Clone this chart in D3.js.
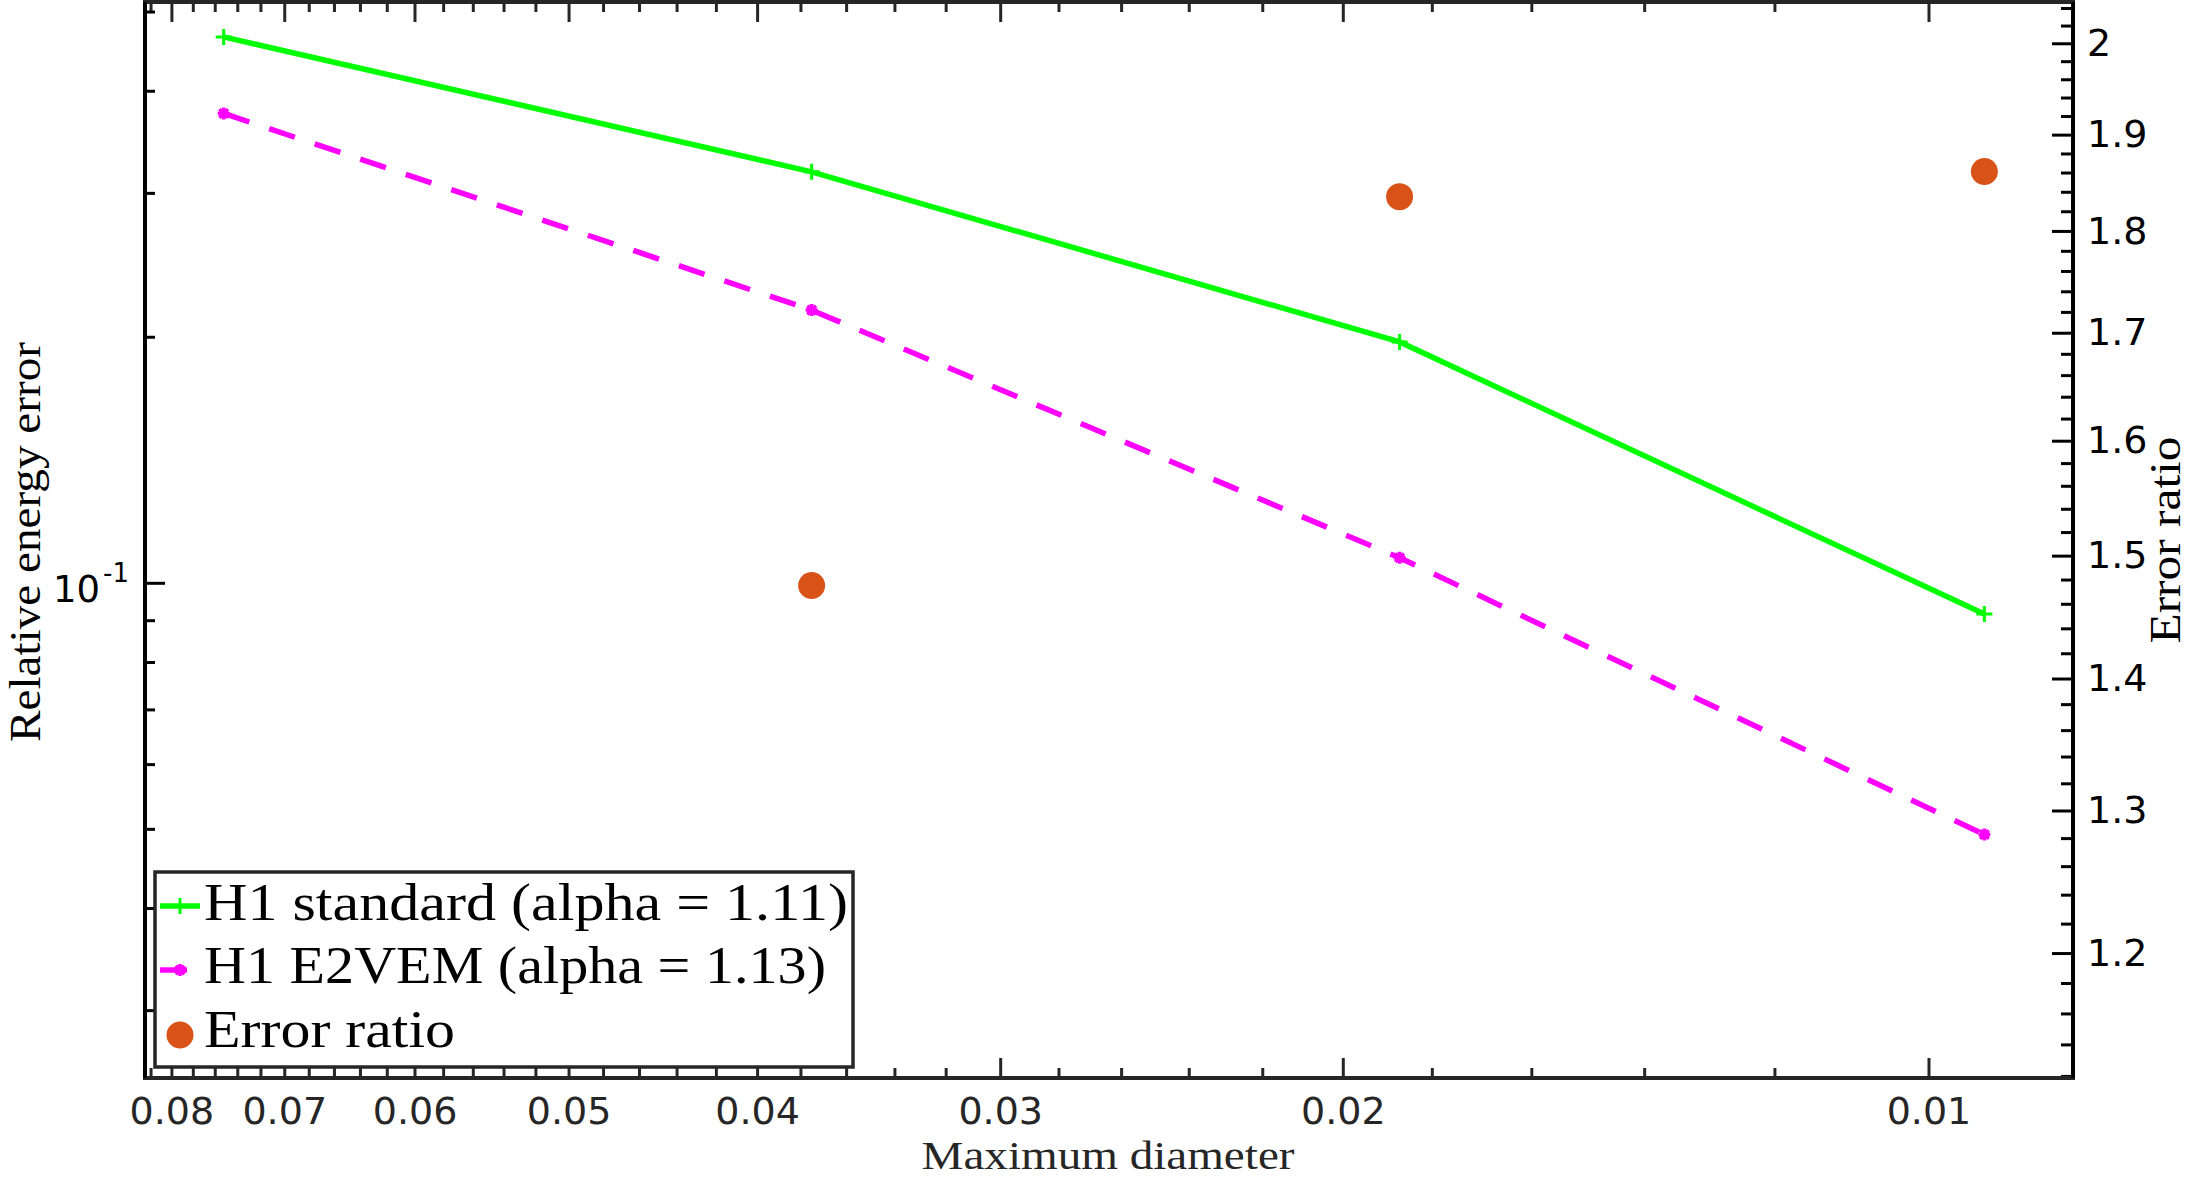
<!DOCTYPE html>
<html>
<head>
<meta charset="utf-8">
<script src="https://cdn.jsdelivr.net/npm/d3@7"></script>
<style>
  html, body { margin: 0; padding: 0; background: #fff; }
  svg { display: block; }
</style>
</head>
<body>
<svg id="chart" width="2191" height="1178"></svg>
<script>
// ---------------- data ----------------
const meshSize      = [0.0752, 0.0375, 0.0187, 0.00936];
const errStandard   = [0.4655, 0.3183, 0.1971, 0.0916];
const errE2VEM      = [0.3752, 0.2156, 0.1073, 0.0492];
const ratioMesh     = [0.0375, 0.0187, 0.00936];
const errorRatio    = [1.475, 1.835, 1.861];

const xTickLabels   = [0.08, 0.07, 0.06, 0.05, 0.04, 0.03, 0.02, 0.01];
const xMinorTicks   = [0.012,0.014,0.016,0.018,0.022,0.024,0.026,0.028,0.032,0.034,0.036,0.038,
                       0.042,0.044,0.046,0.048,0.052,0.054,0.056,0.058,0.062,0.064,0.066,0.068,
                       0.072,0.074,0.076,0.078,0.082];
const yLeftMajor    = [0.1];
const yLeftMinor    = [0.03,0.04,0.05,0.06,0.07,0.08,0.09,0.2,0.3,0.4,0.5];
const yRightLabels  = [1.2,1.3,1.4,1.5,1.6,1.7,1.8,1.9,2];
const yRightMinor   = [1.12,1.14,1.16,1.18,1.22,1.24,1.26,1.28,1.32,1.34,1.36,1.38,1.42,1.44,1.46,1.48,
                       1.52,1.54,1.56,1.58,1.62,1.64,1.66,1.68,1.72,1.74,1.76,1.78,1.82,1.84,1.86,1.88,
                       1.92,1.94,1.96,1.98,2.02,2.04];
const legendLabels  = ["H1 standard (alpha = 1.11)", "H1 E2VEM (alpha = 1.13)", "Error ratio"];

// ---------------- layout ----------------
const L = 145, R = 2073, T = 2, B = 1078;
const GREEN = "#00ff00", MAGENTA = "#ff00ff", ORANGE = "#d95319", AX = "#262626";
const TICKFONT = "'DejaVu Sans', sans-serif";
const SERIF = "'Liberation Serif', 'DejaVu Serif', serif";

const svg = d3.select("#chart");
svg.append("rect").attr("width", 2191).attr("height", 1178).attr("fill", "#fff");

const x  = d3.scaleLog().domain([0.08254, 0.008428]).range([L, R]);
const yL = d3.scaleLog().domain([0.02478, 0.5136]).range([B, T]);
const yR = d3.scaleLog().domain([1.1187, 2.0469]).range([B, T]);

function styleAxis(g, color, hideText) {
  g.select(".domain").remove();
  g.selectAll(".tick line").attr("stroke", color).attr("stroke-width", 3);
  g.selectAll(".tick text").attr("fill", color).attr("font-family", TICKFONT).attr("font-size", 38);
  if (hideText) g.selectAll(".tick text").remove();
}

// bottom x axis
svg.append("g").attr("transform", `translate(0,${B})`)
  .call(d3.axisBottom(x).tickValues(xMinorTicks).tickSizeInner(-10).tickSizeOuter(0).tickFormat(""))
  .call(g => styleAxis(g, AX, true));
svg.append("g").attr("transform", `translate(0,${B})`)
  .call(d3.axisBottom(x).tickValues(xTickLabels).tickSizeInner(-20).tickSizeOuter(0).tickPadding(19)
        .tickFormat(d3.format(".2f")))
  .call(g => styleAxis(g, AX, false));
// top x axis (ticks only)
svg.append("g").attr("transform", `translate(0,${T})`)
  .call(d3.axisTop(x).tickValues(xMinorTicks).tickSizeInner(-10).tickSizeOuter(0).tickFormat(""))
  .call(g => styleAxis(g, AX, true));
svg.append("g").attr("transform", `translate(0,${T})`)
  .call(d3.axisTop(x).tickValues(xTickLabels).tickSizeInner(-20).tickSizeOuter(0).tickFormat(""))
  .call(g => styleAxis(g, AX, true));

// left y axis
svg.append("g").attr("transform", `translate(${L},0)`)
  .call(d3.axisLeft(yL).tickValues(yLeftMinor).tickSizeInner(-10).tickSizeOuter(0).tickFormat(""))
  .call(g => styleAxis(g, "#000", true));
svg.append("g").attr("transform", `translate(${L},0)`)
  .call(d3.axisLeft(yL).tickValues(yLeftMajor).tickSizeInner(-20).tickSizeOuter(0).tickFormat(""))
  .call(g => styleAxis(g, "#000", true));
yLeftMajor.forEach(v => {
  const yy = yL(v);
  svg.append("text").attr("x", 100).attr("y", yy + 19).attr("text-anchor", "end")
    .attr("font-family", TICKFONT).attr("font-size", 37).attr("fill", "#000").text("10");
  svg.append("text").attr("x", 103).attr("y", yy - 1).attr("text-anchor", "start")
    .attr("font-family", TICKFONT).attr("font-size", 26).attr("fill", "#000").text("-1");
});

// right y axis
svg.append("g").attr("transform", `translate(${R},0)`)
  .call(d3.axisRight(yR).tickValues(yRightMinor).tickSizeInner(-12).tickSizeOuter(0).tickFormat(""))
  .call(g => styleAxis(g, "#000", true));
svg.append("g").attr("transform", `translate(${R},0)`)
  .call(d3.axisRight(yR).tickValues(yRightLabels).tickSizeInner(-21).tickSizeOuter(0).tickPadding(14)
        .tickFormat(d => d3.format("")(d)))
  .call(g => styleAxis(g, "#000", false));

// axis lines
svg.append("line").attr("x1", L - 2).attr("x2", R + 2).attr("y1", T).attr("y2", T).attr("stroke", AX).attr("stroke-width", 4);
svg.append("line").attr("x1", L - 2).attr("x2", R + 2).attr("y1", B).attr("y2", B).attr("stroke", AX).attr("stroke-width", 4);
svg.append("line").attr("x1", L).attr("x2", L).attr("y1", T).attr("y2", B).attr("stroke", "#000").attr("stroke-width", 4);
svg.append("line").attr("x1", R).attr("x2", R).attr("y1", T).attr("y2", B).attr("stroke", "#000").attr("stroke-width", 4);

// ---------------- series ----------------
const lineL = d3.line().x(d => x(d[0])).y(d => yL(d[1]));
const stdPts = meshSize.map((h, i) => [h, errStandard[i]]);
const e2vPts = meshSize.map((h, i) => [h, errE2VEM[i]]);

svg.append("path").attr("d", lineL(stdPts)).attr("fill", "none")
  .attr("stroke", GREEN).attr("stroke-width", 5.5);
svg.append("path").attr("d", lineL(e2vPts)).attr("fill", "none")
  .attr("stroke", MAGENTA).attr("stroke-width", 5.5).attr("stroke-dasharray", "27,21");

function plusMarker(g, cx, cy, s, color) {
  g.append("path").attr("d", `M${cx - s},${cy}H${cx + s}M${cx},${cy - s}V${cy + s}`)
    .attr("stroke", color).attr("stroke-width", 3).attr("fill", "none");
}
function starMarker(g, cx, cy, s, color) {
  const d = s * 0.72;
  g.append("path").attr("d",
    `M${cx - s},${cy}H${cx + s}M${cx},${cy - s}V${cy + s}M${cx - d},${cy - d}L${cx + d},${cy + d}M${cx - d},${cy + d}L${cx + d},${cy - d}`)
    .attr("stroke", color).attr("stroke-width", 3.5).attr("fill", "none");
}
const mk = svg.append("g");
stdPts.forEach(d => plusMarker(mk, x(d[0]), yL(d[1]), 8, GREEN));
e2vPts.forEach(d => starMarker(mk, x(d[0]), yL(d[1]), 6, MAGENTA));

svg.append("g").selectAll("circle").data(ratioMesh.map((h, i) => [h, errorRatio[i]]))
  .join("circle").attr("cx", d => x(d[0])).attr("cy", d => yR(d[1])).attr("r", 13.5).attr("fill", ORANGE);

// ---------------- axis titles ----------------
svg.append("text").attr("x", 1108).attr("y", 1169).attr("text-anchor", "middle")
  .attr("font-family", SERIF).attr("font-size", 40).attr("fill", AX)
  .attr("textLength", 373).attr("lengthAdjust", "spacingAndGlyphs").text("Maximum diameter");
svg.append("text").attr("transform", "translate(40,542) rotate(-90)").attr("text-anchor", "middle")
  .attr("font-family", SERIF).attr("font-size", 44).attr("fill", "#000")
  .attr("textLength", 400).attr("lengthAdjust", "spacingAndGlyphs").text("Relative energy error");
svg.append("text").attr("transform", "translate(2180,540) rotate(-90)").attr("text-anchor", "middle")
  .attr("font-family", SERIF).attr("font-size", 44).attr("fill", "#000")
  .attr("textLength", 207).attr("lengthAdjust", "spacingAndGlyphs").text("Error ratio");

// ---------------- legend ----------------
const lg = svg.append("g");
lg.append("rect").attr("x", 155).attr("y", 872).attr("width", 698).attr("height", 195)
  .attr("fill", "#fff").attr("stroke", AX).attr("stroke-width", 3.5);
const rowY = [906, 970, 1035];
const rowBase = [920, 983, 1047];
const textW = [644, 622, 251];
lg.append("line").attr("x1", 160).attr("x2", 200).attr("y1", rowY[0]).attr("y2", rowY[0])
  .attr("stroke", GREEN).attr("stroke-width", 5.5);
plusMarker(lg, 180, rowY[0], 8, GREEN);
lg.append("line").attr("x1", 160).attr("x2", 200).attr("y1", rowY[1]).attr("y2", rowY[1])
  .attr("stroke", MAGENTA).attr("stroke-width", 5.5).attr("stroke-dasharray", "27,21");
starMarker(lg, 180, rowY[1], 6, MAGENTA);
lg.append("circle").attr("cx", 180).attr("cy", rowY[2]).attr("r", 13.5).attr("fill", ORANGE);
legendLabels.forEach((t, i) => {
  lg.append("text").attr("x", 204).attr("y", rowBase[i]).attr("font-family", SERIF)
    .attr("font-size", 52).attr("fill", "#000")
    .attr("textLength", textW[i]).attr("lengthAdjust", "spacingAndGlyphs").text(t);
});
</script>
</body>
</html>
